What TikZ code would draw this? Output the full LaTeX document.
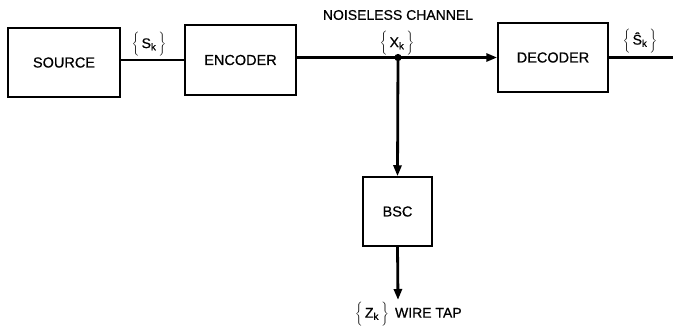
\documentclass[tikz,border=0pt]{standalone}
\usepackage{fontspec}
\setmainfont{Liberation Sans}[FakeBold=0.6]
\newfontfamily\heavy{Liberation Sans}[FakeBold=0.6]
\usetikzlibrary{arrows.meta}
\begin{document}
\begin{tikzpicture}[x=1pt,y=-1pt,
  blk/.style={draw,line width=1.5pt,minimum width=#1,inner sep=0pt,font=\heavy\fontsize{14.5}{16}\selectfont},
  wire/.style={line width=2.8pt},
  arr/.style={wire,-{Triangle[length=11pt,width=8pt]}},
  lbl/.style={inner sep=0pt,font=\heavy\fontsize{14}{16}\selectfont}]
\useasboundingbox (0,0) rectangle (675,327);
\node[blk=112pt,minimum height=69pt] (src) at (64,62.5) {SOURCE};
\node[blk=111pt,minimum height=70pt] (enc) at (240.5,60) {ENCODER};
\node[blk=110pt,minimum height=69pt] (dec) at (553,57.5) {DECODER};
\node[blk=69pt,minimum height=69pt] (bsc) at (397.5,211.5) {BSC};
\coordinate (j) at (398,57.5);
\coordinate (out) at (673,57.5);
\coordinate (tap) at (398,300);
\draw[wire] (src.east |- 0,60) -- (enc.west |- 0,60);
\draw[wire] (enc.east |- j) -- (j);
\draw[arr] (j) -- (dec.west);
\draw[wire] (dec.east) -- (out);
\draw[arr] (j) -- (bsc.north);
\draw[arr] (bsc.south) -- (tap);
\fill (j) circle (3.6pt);
\node[lbl] (sk) at (149,44.5) {$\biggl\{$\,S\textsubscript{k}\,$\biggr\}$};
\node[lbl] (nc) at (398,15) {NOISELESS CHANNEL};
\node[lbl] (xk) at (397,43.5) {$\biggl\{$\,X\textsubscript{k}\,$\biggr\}$};
\node[lbl] (shk) at (640,41) {$\biggl\{$\,Ŝ\textsubscript{k}\,$\biggr\}$};
\node[lbl,anchor=west] (zk) at (355,314) {$\biggl\{$\,Z\textsubscript{k}\,$\biggr\}$\, WIRE TAP};
\end{tikzpicture}
\end{document}
